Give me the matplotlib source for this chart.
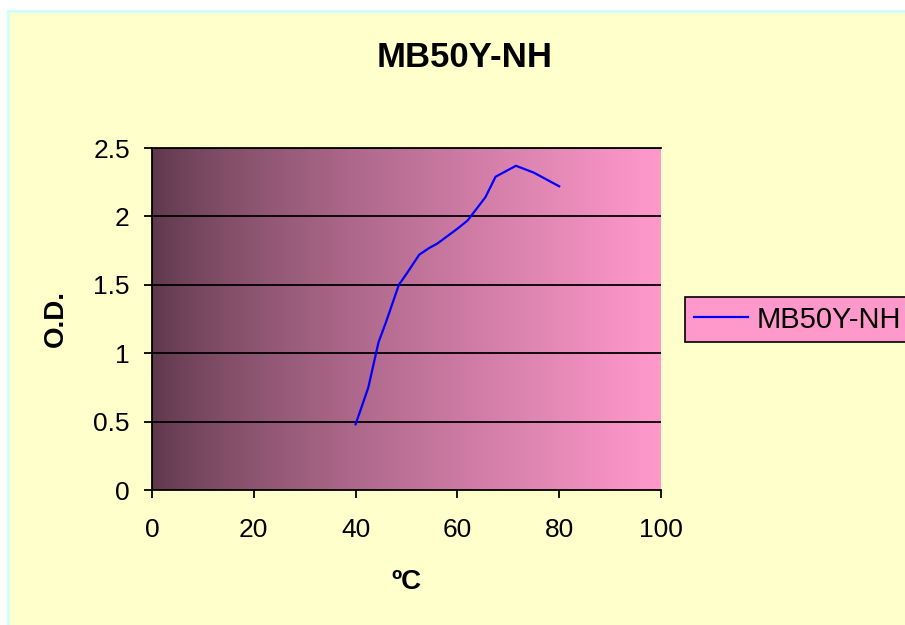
import numpy as np
import matplotlib
matplotlib.use("Agg")
import matplotlib.pyplot as plt
from matplotlib.patches import Rectangle

plt.rcParams['font.family'] = ['Liberation Sans', 'DejaVu Sans']

# Data
temperature = [40, 42.5, 44.5, 46, 48.5, 50, 52.5, 54.5, 56, 60, 62, 65.5, 67.5, 71.5, 75, 80]
od_values = [0.48, 0.75, 1.08, 1.23, 1.50, 1.58, 1.72, 1.77, 1.80, 1.91, 1.97, 2.14, 2.29, 2.37, 2.32, 2.22]
series_name = "MB50Y-NH"
x_ticks = [0, 20, 40, 60, 80, 100]
y_ticks = [0, 0.5, 1, 1.5, 2, 2.5]
y_tick_labels = ["0", "0.5", "1", "1.5", "2", "2.5"]

W, H = 905, 625
fig = plt.figure(figsize=(W / 100, H / 100), dpi=100)
fig.patch.set_facecolor('white')

# Chart area background (light yellow with cyan border)
fig.patches.append(Rectangle((8 / W, -0.01), 1.0, (H - 11) / H + 0.01,
                             transform=fig.transFigure, facecolor='#FFFFCC',
                             edgecolor='#CCFFFF', linewidth=2, zorder=-5))

ax = fig.add_axes([152 / W, (H - 490) / H, (661 - 152) / W, (490 - 148) / H])
ax.set_zorder(2)
ax.set_facecolor('none')

# Gradient plot area
pink = np.array([255, 153, 204]) / 255.0
t = np.linspace(0, 1, 512) ** 0.75
factor = 0.36 + 0.64 * t
grad = factor[None, :, None] * pink[None, None, :]
ax.imshow(grad, extent=[0, 100, 0, 2.5], aspect='auto', origin='lower', zorder=0,
          interpolation='bilinear')

# Gridlines
for yv in y_ticks[1:]:
    ax.axhline(yv, color='black', linewidth=1.3, zorder=1)

ax.plot(temperature, od_values, color='#0000FF', linewidth=1.6, zorder=3, label=series_name)

ax.set_xlim(0, 100)
ax.set_ylim(0, 2.5)
ax.set_xticks(x_ticks)
ax.set_yticks(y_ticks)
ax.set_yticklabels(y_tick_labels)
ax.tick_params(axis='both', direction='out', length=6, width=1.3, colors='black',
               labelsize=19)
ax.tick_params(axis='x', pad=14)
ax.tick_params(axis='y', pad=10)

ax.spines['right'].set_visible(False)
for side in ['left', 'bottom', 'top']:
    ax.spines[side].set_color('black')
    ax.spines[side].set_linewidth(1.3)

fig.text(465 / W, (H - 57.5) / H, series_name, fontsize=25, fontweight='bold',
         ha='center', va='center')
fig.text(406.5 / W, (H - 582) / H, 'ºC', fontsize=20, fontweight='bold',
         ha='center', va='center')
fig.text(56 / W, (H - 318.5) / H, 'O.D.', fontsize=20, fontweight='bold',
         ha='center', va='center', rotation=90)

leg = ax.legend(loc='center left', bbox_to_anchor=(685 / W, (H - 319.5) / H),
                bbox_transform=fig.transFigure, fontsize=21, frameon=True,
                fancybox=False, framealpha=1, facecolor='#FF99CC',
                edgecolor='black', borderpad=0.3, handlelength=1.85,
                handletextpad=0.3, borderaxespad=0)
leg.get_frame().set_linewidth(1.2)

fig.savefig('out.png', dpi=100)
